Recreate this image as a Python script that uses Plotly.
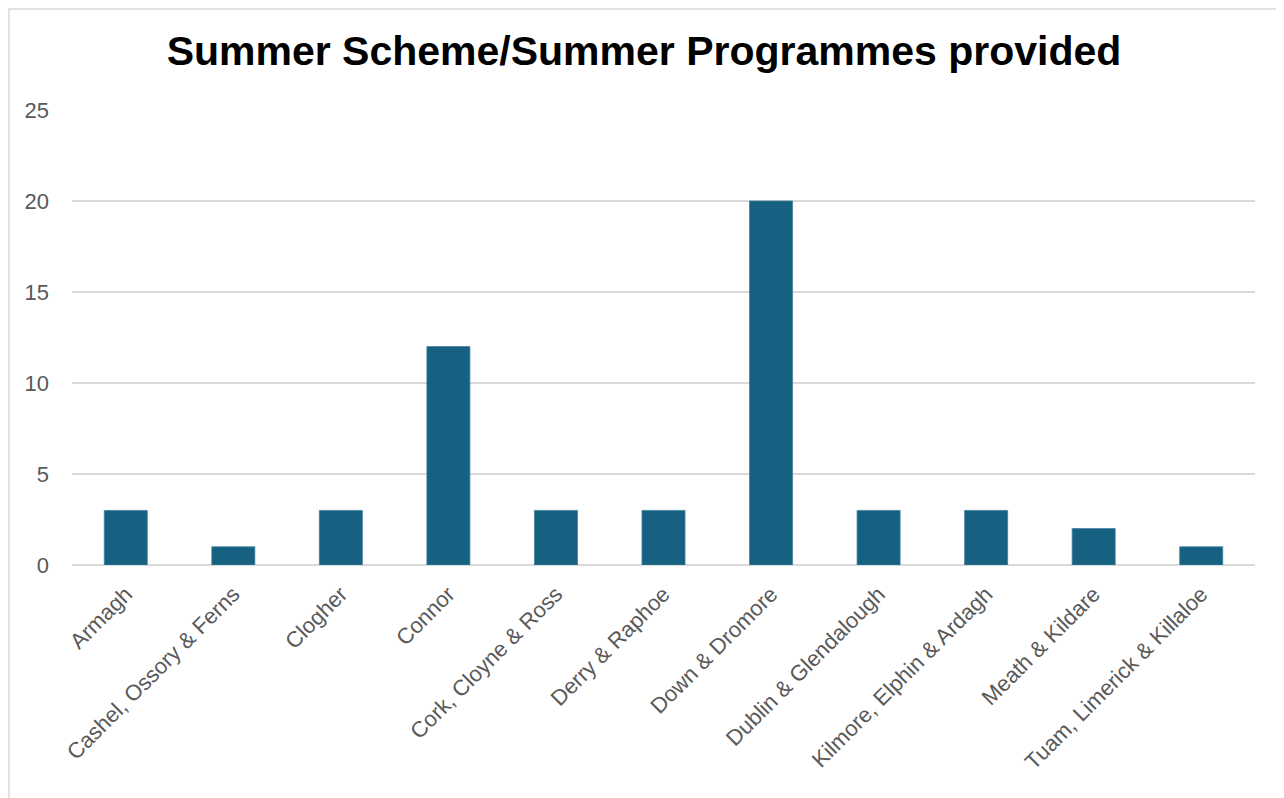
import plotly.graph_objects as go

categories = ["Armagh", "Cashel, Ossory & Ferns", "Clogher", "Connor",
              "Cork, Cloyne & Ross", "Derry & Raphoe", "Down & Dromore",
              "Dublin & Glendalough", "Kilmore, Elphin & Ardagh",
              "Meath & Kildare", "Tuam, Limerick & Killaloe"]
values = [3, 1, 3, 12, 3, 3, 20, 3, 3, 2, 1]
y_ticks = [0, 5, 10, 15, 20, 25]

# page has an 8px body offset; size the figure to fit the 1284x798 window
W, H = 1276, 790
L, R, T, B = 64, 29, 102, 233
pw, ph = W - L - R, H - T - B

fig = go.Figure(go.Bar(
    x=categories, y=values, width=0.4,
    marker=dict(color="#166082", line=dict(color="#3f7f9c", width=0.8)),
))

font_family = "Liberation Sans, Arial, sans-serif"

fig.update_layout(
    width=W, height=H,
    margin=dict(l=L, r=R, t=T, b=B, autoexpand=False),
    paper_bgcolor="white", plot_bgcolor="white",
    showlegend=False,
    title=dict(text="<b>Summer Scheme/Summer Programmes provided</b>",
               x=636 / W, xanchor="center", xref="container",
               y=1 - 43 / H, yanchor="middle", yref="container",
               font=dict(family=font_family, size=41, color="black")),
    font=dict(family=font_family, color="#595959"),
    xaxis=dict(tickangle=-45, tickfont=dict(size=22, color="#595959"),
               showgrid=False, showline=False, ticks="",
               ticklabelstandoff=11),
    yaxis=dict(range=[0, 25], tickvals=y_ticks, tickfont=dict(size=22, color="#595959"),
               showgrid=True, gridcolor="#d9d9d9", gridwidth=1.5,
               zeroline=True, zerolinecolor="#d9d9d9", zerolinewidth=1.5,
               showline=False, ticks="", ticklabelstandoff=22),
    bargap=0.6,
)

# outer chart border
fig.add_shape(type="rect", xref="paper", yref="paper",
              x0=(1 - L) / pw, x1=(1275 - L) / pw,
              y0=(H - B - 805) / ph, y1=(H - B - 1) / ph,
              line=dict(color="#d9d9d9", width=1.5), fillcolor="rgba(0,0,0,0)",
              layer="below")

fig.write_html("out.html")
